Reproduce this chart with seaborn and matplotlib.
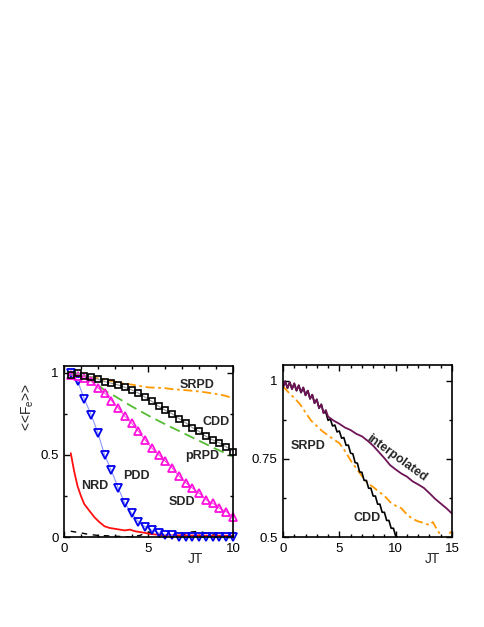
import matplotlib
matplotlib.use("Agg")
import matplotlib.pyplot as plt
import seaborn as sns
from matplotlib.ticker import MultipleLocator, FixedLocator

# ---- left panel data ----
jt_marks = [0.4, 0.8, 1.2, 1.6, 2.0, 2.4, 2.8, 3.2, 3.6, 4.0, 4.4, 4.8, 5.2,
            5.6, 6.0, 6.4, 6.8, 7.2, 7.6, 8.0, 8.4, 8.8, 9.2, 9.6, 10.0]
cdd_left = [0.985, 0.995, 0.98, 0.975, 0.96, 0.945, 0.935, 0.925, 0.91, 0.895,
            0.875, 0.85, 0.825, 0.795, 0.77, 0.75, 0.72, 0.695, 0.665, 0.642,
            0.612, 0.59, 0.572, 0.548, 0.52]
sdd_left = [0.985, 0.98, 0.965, 0.947, 0.907, 0.876, 0.83, 0.785, 0.733, 0.693,
            0.642, 0.59, 0.54, 0.50, 0.46, 0.42, 0.37, 0.33, 0.297, 0.266,
            0.226, 0.205, 0.175, 0.154, 0.124]
pdd_left = [0.995, 0.95, 0.84, 0.745, 0.635, 0.50, 0.405, 0.30, 0.205, 0.145,
            0.093, 0.063, 0.04, 0.025, 0.015, 0.01, 0.0, 0.0, 0.0, 0.0,
            0.0, 0.0, 0.0, 0.0, 0.0]

nrd_x = [0.4, 0.6, 0.8, 1.0, 1.2, 1.5, 1.8, 2.1, 2.4, 2.7, 3.0, 3.3, 3.6, 3.9,
         4.2, 4.5, 4.8, 5.1, 5.5, 6.0, 6.5, 7.0, 7.5, 8.0, 8.5, 9.0, 9.5, 10.0]
nrd_y = [0.51, 0.40, 0.31, 0.25, 0.20, 0.16, 0.12, 0.09, 0.065, 0.055, 0.05,
         0.045, 0.04, 0.045, 0.035, 0.03, 0.025, 0.018, 0.015, 0.012, 0.01,
         0.01, 0.009, 0.01, 0.008, 0.009, 0.008, 0.008]

prpd_x = [0.4, 1.0, 1.5, 2.0, 2.5, 3.0, 4.0, 5.0, 6.0, 7.0, 8.0, 9.0, 10.0]
prpd_y = [1.0, 0.99, 0.96, 0.925, 0.885, 0.857, 0.795, 0.738, 0.685, 0.635,
          0.585, 0.535, 0.49]

srpd_x = [0.4, 1.0, 1.5, 2.0, 2.5, 3.0, 3.5, 4.0, 4.5, 5.0, 5.5, 6.0, 6.5,
          7.0, 7.5, 8.0, 8.5, 9.0, 9.5, 10.0]
srpd_y = [0.985, 0.98, 0.975, 0.965, 0.955, 0.945, 0.935, 0.927, 0.918, 0.91,
          0.908, 0.905, 0.898, 0.895, 0.89, 0.885, 0.878, 0.87, 0.86, 0.845]

low_x = [0.4, 1.0, 1.5, 2.0, 3.0, 4.0, 4.5, 5.0, 5.5, 6.0, 7.0, 7.5, 8.0,
         8.5, 9.0, 10.0]
low_y = [0.035, 0.025, 0.015, 0.01, 0.005, 0.0, 0.01, 0.03, 0.02, 0.005,
         0.01, 0.03, 0.035, 0.02, 0.01, 0.005]

# ---- right panel data ----
interp_x = [0.0, 0.2, 0.4, 0.6, 0.8, 1.0, 1.2, 1.4, 1.6, 1.8, 2.0, 2.2, 2.4,
            2.6, 2.8, 3.0, 3.2, 3.4, 3.6, 3.8, 4.0, 4.5, 5.0, 5.5, 6.0, 6.5,
            7.0, 7.5, 8.0, 8.5, 9.0, 9.5, 10.0, 10.5, 11.0, 11.5, 12.0, 12.5,
            13.0, 13.5, 14.0, 14.5, 15.0]
interp_y = [0.978, 0.998, 0.976, 0.995, 0.973, 0.991, 0.968, 0.985, 0.962,
            0.978, 0.953, 0.968, 0.942, 0.955, 0.928, 0.940, 0.912, 0.924,
            0.896, 0.906, 0.885, 0.872, 0.862, 0.85, 0.842, 0.83, 0.822, 0.808,
            0.792, 0.772, 0.752, 0.73, 0.716, 0.703, 0.693, 0.678, 0.668,
            0.657, 0.64, 0.622, 0.607, 0.592, 0.575]

cdd_x = [0.0, 0.2, 0.4, 0.6, 0.8, 1.0, 1.2, 1.4, 1.6, 1.8, 2.0, 2.2, 2.4, 2.6,
         2.8, 3.0, 3.2, 3.4, 3.6, 3.8, 4.0, 4.2, 4.4, 4.6, 4.8, 5.0, 5.2, 5.4,
         5.6, 5.8, 6.0, 6.2, 6.4, 6.6, 6.8, 7.0, 7.2, 7.4, 7.6, 7.8, 8.0, 8.2,
         8.4, 8.6, 8.8, 9.0, 9.2, 9.4, 9.6, 9.8, 10.0, 10.2, 10.4]
cdd_y = [0.978, 0.998, 0.976, 0.995, 0.973, 0.991, 0.968, 0.985, 0.962, 0.978,
         0.953, 0.968, 0.942, 0.955, 0.928, 0.940, 0.912, 0.924, 0.897, 0.899,
         0.873, 0.877, 0.855, 0.858, 0.836, 0.839, 0.816, 0.818, 0.793, 0.794,
         0.768, 0.766, 0.738, 0.736, 0.708, 0.707, 0.681, 0.681, 0.656, 0.656,
         0.631, 0.631, 0.605, 0.605, 0.579, 0.579, 0.553, 0.553, 0.528, 0.528,
         0.503, 0.499, 0.488]

srpd_r_x = [0.0, 0.5, 1.0, 1.5, 2.0, 2.5, 3.0, 3.5, 4.0, 4.5, 5.0, 5.5, 6.0,
            6.5, 7.0, 7.5, 8.0, 8.5, 9.0, 9.5, 10.0, 10.5, 11.0, 11.5, 12.0,
            12.5, 13.0, 13.3, 13.6, 14.0, 14.3, 14.6, 15.0]
srpd_r_y = [0.982, 0.962, 0.945, 0.925, 0.898, 0.872, 0.855, 0.838, 0.825,
            0.812, 0.80, 0.775, 0.745, 0.72, 0.695, 0.672, 0.66, 0.645, 0.632,
            0.612, 0.60, 0.592, 0.572, 0.558, 0.55, 0.545, 0.538, 0.548, 0.528,
            0.505, 0.49, 0.505, 0.52]

sns.set_style("ticks")
plt.rcParams['font.family'] = ['Liberation Sans', 'DejaVu Sans']
plt.rcParams['mathtext.fontset'] = 'custom'
plt.rcParams['mathtext.rm'] = 'Liberation Sans'
plt.rcParams['mathtext.it'] = 'Liberation Sans'

fig = plt.figure(figsize=(4.85, 6.27), dpi=100)
ax1 = fig.add_axes([64 / 485, 90 / 627, 169 / 485, 171 / 627])
ax2 = fig.add_axes([283 / 485, 90 / 627, 169 / 485, 172 / 627])

dashdot = (0, (5, 2, 1.5, 2))
green_dash = (0, (6, 3))

# left panel curves
sns.lineplot(x=low_x, y=low_y, ax=ax1, color='black', lw=1.0,
             linestyle=(0, (4, 4)), legend=False)
sns.lineplot(x=nrd_x, y=nrd_y, ax=ax1, color='#ff1010', lw=1.3, legend=False)
sns.lineplot(x=srpd_x, y=srpd_y, ax=ax1, color='#ff9900', lw=1.3,
             linestyle=dashdot, legend=False)
sns.lineplot(x=prpd_x, y=prpd_y, ax=ax1, color='#55bb33', lw=1.3,
             linestyle=green_dash, legend=False)
sns.lineplot(x=jt_marks, y=pdd_left, ax=ax1, color='#8c96ff', lw=0.8,
             marker='v', ms=6, mfc='none', mec='#0000ee', mew=1.3,
             legend=False, clip_on=False)
sns.lineplot(x=jt_marks, y=sdd_left, ax=ax1, color='#ff33dd', lw=0.6,
             marker='^', ms=6.3, mfc='none', mec='#ff11dd', mew=1.3,
             legend=False, clip_on=False)
sns.lineplot(x=jt_marks, y=cdd_left, ax=ax1, color='#999999', lw=0.8,
             marker='s', ms=5, mfc='none', mec='black', mew=1.2,
             legend=False, clip_on=False)

ax1.set_xlim(0, 10)
ax1.set_ylim(0, 1.04)
ax1.xaxis.set_major_locator(FixedLocator([0, 5, 10]))
ax1.xaxis.set_minor_locator(MultipleLocator(1))
ax1.yaxis.set_major_locator(FixedLocator([0, 0.5, 1]))
ax1.yaxis.set_minor_locator(FixedLocator([0.25, 0.75]))
ax1.set_yticklabels(['0', '0.5', '1'])

lbl = dict(fontsize=9, fontweight='bold', ha='center', va='center')
ax1.text(7.85, 0.927, 'SRPD', **lbl)
ax1.text(9.0, 0.70, 'CDD', **lbl)
ax1.text(8.2, 0.49, 'pRPD', **lbl)
ax1.text(6.96, 0.21, 'SDD', **lbl)
ax1.text(4.3, 0.372, 'PDD', **lbl)
ax1.text(1.84, 0.31, 'NRD', **lbl)

# right panel curves
sns.lineplot(x=srpd_r_x, y=srpd_r_y, ax=ax2, color='#ff9900', lw=1.3,
             linestyle=dashdot, legend=False)
sns.lineplot(x=cdd_x, y=cdd_y, ax=ax2, color='black', lw=1.2, legend=False)
sns.lineplot(x=interp_x, y=interp_y, ax=ax2, color='#6e1456', lw=1.3,
             legend=False)

ax2.set_xlim(0, 15)
ax2.set_ylim(0.5, 1.05)
ax2.xaxis.set_major_locator(FixedLocator([0, 5, 10, 15]))
ax2.xaxis.set_minor_locator(MultipleLocator(1))
ax2.yaxis.set_major_locator(FixedLocator([0.5, 0.75, 1]))
ax2.yaxis.set_minor_locator(FixedLocator([0.625, 0.875]))
ax2.set_yticklabels(['0.5', '0.75', '1'])
ax2.set_xticklabels(['0', '5', '10', '15'])

ax2.text(2.2, 0.79, 'SRPD', **lbl)
ax2.text(7.5, 0.56, 'CDD', **lbl)
ax2.text(10.1, 0.752, 'interpolated', rotation=-36, rotation_mode='anchor',
         fontsize=9, fontweight='bold', ha='center', va='center')

for ax in (ax1, ax2):
    ax.set_xlabel('')
    ax.set_ylabel('')
    ax.tick_params(which='both', direction='in', top=True, right=True,
                   labelsize=9.5, width=1.0, colors='black', pad=4)
    ax.tick_params(which='major', length=4.5)
    ax.tick_params(which='minor', length=2.5)
    for sp in ax.spines.values():
        sp.set_visible(True)
        sp.set_linewidth(1.2)
        sp.set_color('black')

fig.text(195 / 485, 1 - 559 / 627, 'JT', fontsize=10, ha='center', va='center')
fig.text(432 / 485, 1 - 559 / 627, 'JT', fontsize=10, ha='center', va='center')
fig.text(28 / 485, 1 - 407 / 627, r'<<F$_{e}$>>', fontsize=10, rotation=90,
         ha='center', va='center')

fig.savefig('out.png', dpi=100)
